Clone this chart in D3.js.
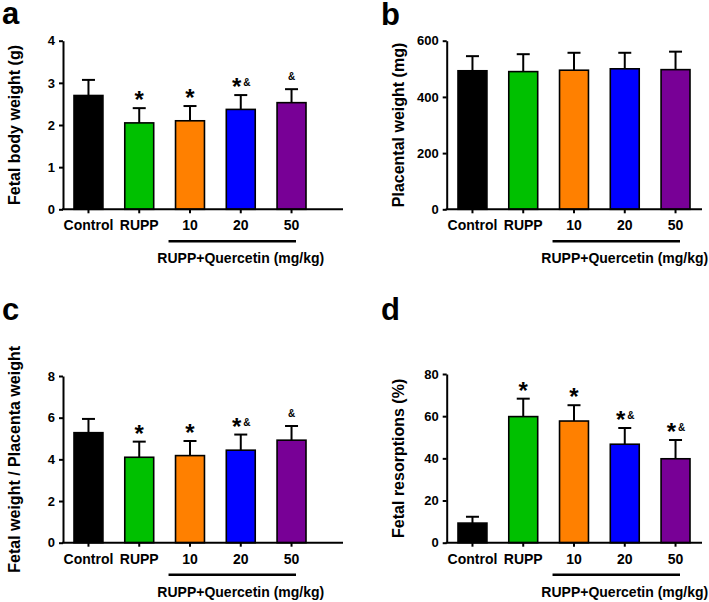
<!DOCTYPE html>
<html>
<head>
<meta charset="utf-8">
<script src="https://cdn.jsdelivr.net/npm/d3@7"></script>
<style>
  body { margin: 0; background: #fff; }
  svg { display: block; font-family: "Liberation Sans", Arial, sans-serif; font-weight: bold; }
</style>
</head>
<body>
<div id="chart"></div>
<script>
// groups and colours shared by all four panels
var groups = ["Control", "RUPP", "10", "20", "50"];
var barColors = ["#000000", "#00c000", "#ff8000", "#0000ff", "#780096"];

// a - fetal body weight (g)
var fetalWeight = [2.70, 2.05, 2.10, 2.37, 2.53];
var fetalWeightErr = [0.37, 0.35, 0.35, 0.34, 0.32];
var fetalWeightTicks = [0, 1, 2, 3, 4];
var fetalWeightMarks = ["", "*", "*", "*&", "&"];

// b - placental weight (mg)
var placentalWeight = [493, 490, 495, 500, 497];
var placentalWeightErr = [52, 62, 62, 57, 64];
var placentalWeightTicks = [0, 200, 400, 600];
var placentalWeightMarks = ["", "", "", "", ""];

// c - fetal / placenta ratio
var weightRatio = [5.28, 4.10, 4.18, 4.44, 4.92];
var weightRatioErr = [0.66, 0.75, 0.70, 0.75, 0.68];
var weightRatioTicks = [0, 2, 4, 6, 8];
var weightRatioMarks = ["", "*", "*", "*&", "&"];

// d - fetal resorptions (%)
var resorptions = [9.3, 59.8, 57.7, 46.7, 39.8];
var resorptionsErr = [3.0, 8.5, 7.5, 7.7, 8.9];
var resorptionsTicks = [0, 20, 40, 60, 80];
var resorptionsMarks = ["", "*", "*", "*&", "*&"];

var bracketLabel = "RUPP+Quercetin (mg/kg)";

var svg = d3.select("#chart").append("svg")
    .attr("width", 709)
    .attr("height", 602);

function drawPanel(p) {
    var g = svg.append("g");

    // scales
    var x = d3.scaleBand().domain(groups).range([p.barsLeft, p.barsLeft + 232]).paddingInner(0.43).paddingOuter(0);
    var y = d3.scaleLinear().domain([0, p.ticks[p.ticks.length - 1]]).range([p.y0, p.yTop]);

    // panel letter
    svg.append("text")
        .attr("x", p.letterX)
        .attr("y", p.letterY)
        .attr("font-size", 31)
        .text(p.letter);

    // y label
    g.append("text")
        .attr("transform", "translate(" + p.labelX + "," + ((p.y0 + p.yTop) / 2) + ") rotate(-90)")
        .attr("text-anchor", "middle")
        .attr("font-size", 16)
        .text(p.yLabel);

    // bars
    g.selectAll(".bar")
        .data(p.values)
        .enter().append("rect")
        .attr("class", "bar")
        .attr("x", function(d, i) { return x(groups[i]); })
        .attr("y", function(d) { return y(d); })
        .attr("width", x.bandwidth())
        .attr("height", function(d) { return p.y0 - y(d); })
        .attr("fill", function(d, i) { return barColors[i]; })
        .attr("stroke", "#000")
        .attr("stroke-width", 1.6);

    // error bars (upper only)
    var err = g.selectAll(".err")
        .data(p.values)
        .enter().append("g")
        .attr("class", "err")
        .attr("stroke", "#000")
        .attr("stroke-width", 2);
    err.append("line")
        .attr("x1", function(d, i) { return x(groups[i]) + x.bandwidth() / 2; })
        .attr("x2", function(d, i) { return x(groups[i]) + x.bandwidth() / 2; })
        .attr("y1", function(d) { return y(d); })
        .attr("y2", function(d, i) { return y(d + p.errors[i]); });
    err.append("line")
        .attr("x1", function(d, i) { return x(groups[i]) + x.bandwidth() / 2 - 6.5; })
        .attr("x2", function(d, i) { return x(groups[i]) + x.bandwidth() / 2 + 6.5; })
        .attr("y1", function(d, i) { return y(d + p.errors[i]); })
        .attr("y2", function(d, i) { return y(d + p.errors[i]); });

    // significance marks
    p.marks.forEach(function(m, i) {
        if (!m) return;
        var cx = x(groups[i]) + x.bandwidth() / 2;
        var top = y(p.values[i] + p.errors[i]);
        var hasStar = m.indexOf("*") >= 0, hasAmp = m.indexOf("&") >= 0;
        if (hasStar) {
            g.append("text")
                .attr("x", hasAmp ? cx - 4 : cx)
                .attr("y", top)
                .attr("text-anchor", "middle")
                .attr("font-size", 24)
                .text("*");
        }
        if (hasAmp) {
            g.append("text")
                .attr("x", hasStar ? cx + 6 : cx)
                .attr("y", top - 9)
                .attr("text-anchor", "middle")
                .attr("font-size", 10)
                .text("&");
        }
    });

    // y axis
    var yAxis = g.append("g")
        .attr("transform", "translate(" + p.axisX + ",0)")
        .call(d3.axisLeft(y).tickValues(p.ticks).tickFormat(d3.format("d")).tickSize(4).tickSizeOuter(0).tickPadding(4));
    yAxis.selectAll("path, line").attr("stroke", "#000").attr("stroke-width", 2);
    yAxis.selectAll("text").attr("font-size", 13).attr("fill", "#000");
    yAxis.attr("font-family", null);

    // x axis
    g.append("line")
        .attr("x1", p.axisX - 1)
        .attr("x2", p.axisEnd)
        .attr("y1", p.y0)
        .attr("y2", p.y0)
        .attr("stroke", "#000")
        .attr("stroke-width", 2);
    var xAxis = g.append("g")
        .attr("transform", "translate(0," + p.y0 + ")")
        .call(d3.axisBottom(x).tickSize(4).tickSizeOuter(0).tickPadding(7));
    xAxis.select(".domain").remove();
    xAxis.selectAll("line").attr("stroke", "#000").attr("stroke-width", 2);
    xAxis.selectAll("text").attr("font-size", 14).attr("fill", "#000");
    xAxis.attr("font-family", null);

    // bracket under the quercetin doses
    g.append("line")
        .attr("x1", x("10") - 7)
        .attr("x2", x("50") + x.bandwidth() - 10)
        .attr("y1", p.y0 + 32)
        .attr("y2", p.y0 + 32)
        .attr("stroke", "#000")
        .attr("stroke-width", 2.5);
    g.append("text")
        .attr("x", x("20") + x.bandwidth() / 2)
        .attr("y", p.y0 + 54)
        .attr("text-anchor", "middle")
        .attr("font-size", 14)
        .text(bracketLabel);
}

drawPanel({letter: "a", letterX: 2, letterY: 24, yLabel: "Fetal body weight (g)", labelX: 19.5,
    values: fetalWeight, errors: fetalWeightErr, ticks: fetalWeightTicks, marks: fetalWeightMarks,
    axisX: 63, axisEnd: 343, barsLeft: 74, y0: 209.3, yTop: 40.7});
drawPanel({letter: "b", letterX: 381, letterY: 25, yLabel: "Placental weight (mg)", labelX: 403.5,
    values: placentalWeight, errors: placentalWeightErr, ticks: placentalWeightTicks, marks: placentalWeightMarks,
    axisX: 446.7, axisEnd: 702, barsLeft: 458, y0: 209.3, yTop: 40.7});
drawPanel({letter: "c", letterX: 2, letterY: 320, yLabel: "Fetal weight / Placenta weight", labelX: 19.5,
    values: weightRatio, errors: weightRatioErr, ticks: weightRatioTicks, marks: weightRatioMarks,
    axisX: 63, axisEnd: 343, barsLeft: 74, y0: 542.7, yTop: 376});
drawPanel({letter: "d", letterX: 381, letterY: 320, yLabel: "Fetal resorptions (%)", labelX: 403.5,
    values: resorptions, errors: resorptionsErr, ticks: resorptionsTicks, marks: resorptionsMarks,
    axisX: 446.7, axisEnd: 702, barsLeft: 458, y0: 542.7, yTop: 374});
</script>
</body>
</html>
